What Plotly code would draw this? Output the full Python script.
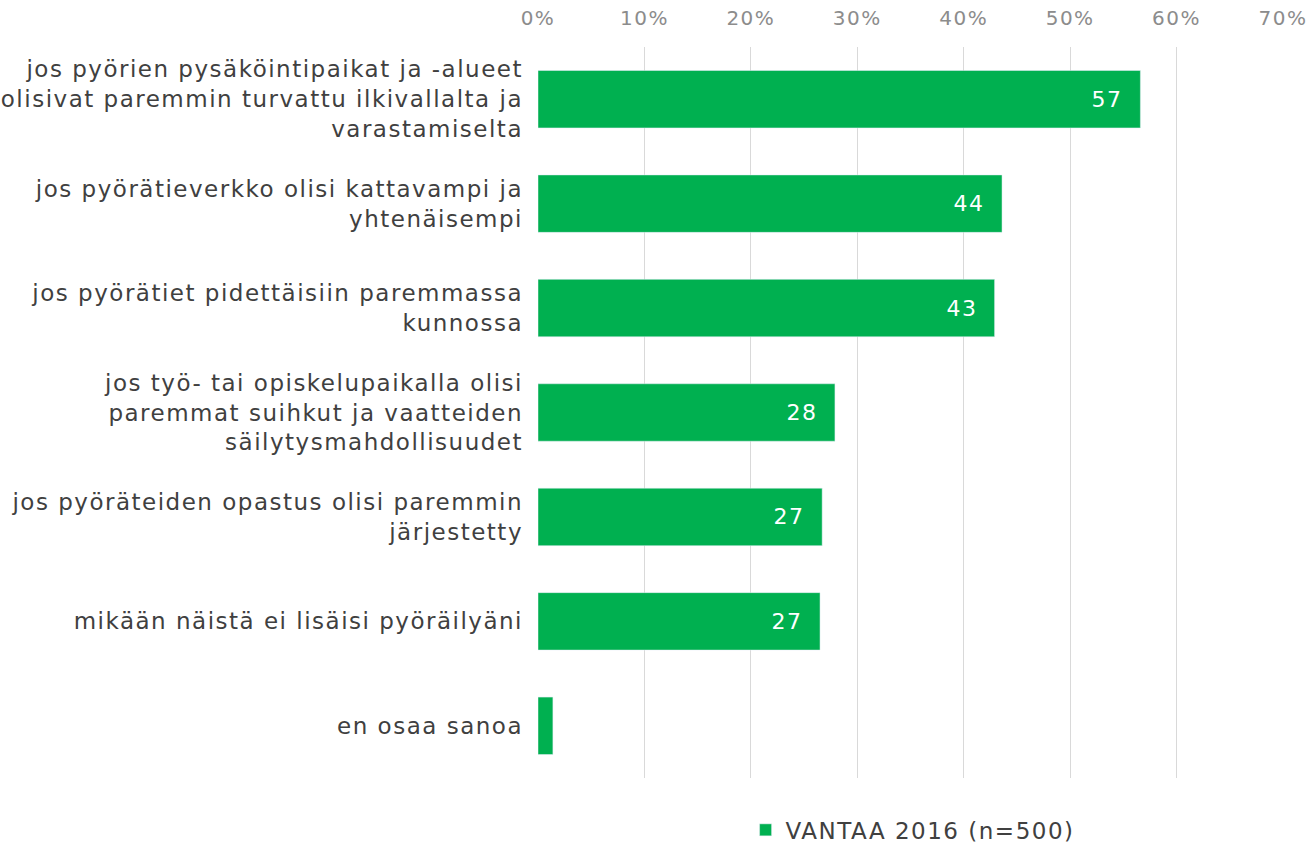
import plotly.graph_objects as go

categories = [
    "jos pyörien pysäköintipaikat ja -alueet<br>olisivat paremmin turvattu ilkivallalta ja<br>varastamiselta",
    "jos pyörätieverkko olisi kattavampi ja<br>yhtenäisempi",
    "jos pyörätiet pidettäisiin paremmassa<br>kunnossa",
    "jos työ- tai opiskelupaikalla olisi<br>paremmat suihkut ja vaatteiden<br>säilytysmahdollisuudet",
    "jos pyöräteiden opastus olisi paremmin<br>järjestetty",
    "mikään näistä ei lisäisi pyöräilyäni",
    "en osaa sanoa",
]
values = [56.6, 43.6, 42.9, 27.9, 26.7, 26.5, 1.4]
labels = ["57", "44", "43", "28", "27", "27", ""]
series_name = "VANTAA 2016 (n=500)"
tick_vals = [0, 10, 20, 30, 40, 50, 60, 70]
tick_text = ["0%", "10%", "20%", "30%", "40%", "50%", "60%", "70%"]

FONT = "DejaVu Sans"

fig = go.Figure()
fig.add_trace(go.Bar(
    y=categories,
    x=values,
    orientation="h",
    name=series_name,
    marker=dict(color="#00B050"),
    showlegend=True,
    hoverinfo="skip",
))

for cat, val, lab in zip(categories, values, labels):
    if lab:
        fig.add_annotation(
            x=val, y=cat, xref="x", yref="y",
            text=lab, showarrow=False,
            xanchor="right", yanchor="middle",
            xshift=-17,
            font=dict(family=FONT, size=22, color="white"),
        )

fig.update_layout(
    width=1309,
    height=843,
    paper_bgcolor="white",
    plot_bgcolor="white",
    margin=dict(l=538, r=26, t=47, b=65, pad=0, autoexpand=False),
    bargap=0.45,
    hovermode=False,
    font=dict(family=FONT, size=23, color="#404040"),
    legend=dict(
        orientation="h",
        x=0.484, xanchor="center",
        y=-0.071, yanchor="middle",
        font=dict(family=FONT, size=23, color="#404040"),
        itemwidth=30,
    ),
    xaxis=dict(
        side="top",
        range=[0, 70],
        tickvals=tick_vals,
        ticktext=tick_text,
        tickfont=dict(family=FONT, size=20, color="#8c8c8c"),
        showgrid=True,
        gridcolor="#d9d9d9",
        gridwidth=1,
        zeroline=False,
        showline=False,
        ticks="",
        ticklabelstandoff=17,
        automargin=False,
        fixedrange=True,
    ),
    yaxis=dict(
        autorange="reversed",
        showgrid=False,
        showline=False,
        ticks="",
        ticklabelstandoff=14,
        automargin=False,
        fixedrange=True,
        tickfont=dict(family=FONT, size=23, color="#404040"),
    ),
)

post = (
    "var st=document.createElement('style');"
    "st.innerHTML='body{margin:0 !important;} .main-svg text{letter-spacing:1.5px;} "
    ".legend .scrollbox{clip-path:none !important;}';"
    "document.head.appendChild(st);"
)

fig.write_html("out.html", post_script=post, config={"displayModeBar": False, "staticPlot": True})
